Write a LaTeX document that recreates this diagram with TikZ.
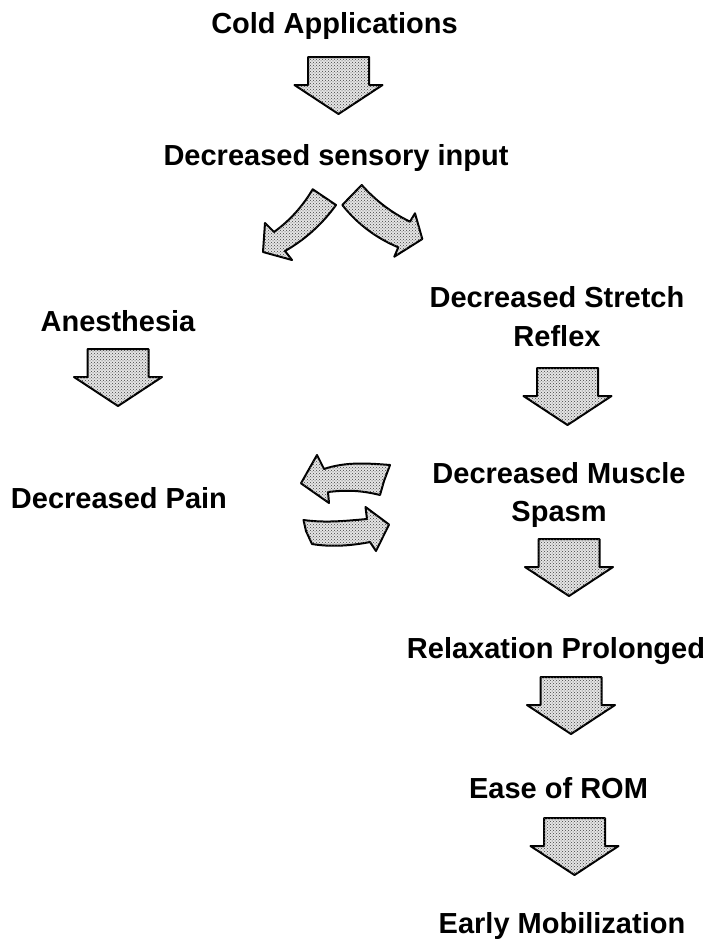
\documentclass[tikz,border=0pt]{standalone}
\usepackage{fontspec}
\setmainfont{Liberation Sans}
\usetikzlibrary{positioning,patterns}

\tikzset{
  fat/.style={draw=black, line width=2pt, fill=black!10, line join=round,
    postaction={pattern=crosshatch dots, pattern color=black!75}},
  fatdown/.pic={
    \draw[fat] (-30.5,0) -- (30.5,0) -- (30.5,28) -- (44,28) -- (0,57)
      -- (-44,28) -- (-30.5,28) -- cycle;
  },
  lbl/.style={anchor=base, inner sep=0pt, align=center,
    font=\fontsize{29}{38.5}\selectfont\bfseries}
}

\begin{document}
\begin{tikzpicture}[x=1pt, y=-1pt]
  \useasboundingbox (0,0) rectangle (712,940);
  \node[lbl] (cold) at (334.5,33) {Cold Applications};
  \node[lbl] (sensory) at (336,165) {Decreased sensory input};
  \node[lbl] (anesthesia) at (118,331.5) {Anesthesia};
  \node[lbl] (stretch) at (557,346) {Decreased Stretch\\Reflex};
  \node[lbl] (pain) at (119,508.5) {Decreased Pain};
  \node[lbl] (spasm) at (559,521.7) {Decreased Muscle\\Spasm};
  \node[lbl] (relax) at (556,658.3) {Relaxation Prolonged};
  \node[lbl] (rom) at (558.5,798.3) {Ease of ROM};
  \node[lbl] (early) at (562,933.3) {Early Mobilization};
  % straight block arrows
  \pic at (338.5,57) {fatdown};
  \pic at (118,349) {fatdown};
  \pic at (567.5,368) {fatdown};
  \pic at (569,539) {fatdown};
  \pic at (571,677) {fatdown};
  \pic at (574.5,818) {fatdown};
  % curved block arrows
  \draw[fat] (312.7,189.3) .. controls (302.5,206.5) and (289.6,220.8) .. (274,232)
    -- (265,223) -- (263,252) -- (292,260) -- (285,251)
    .. controls (305.3,239.4) and (322.3,224) .. (336,205) -- cycle;
  \draw[fat] (361.7,185) .. controls (375.4,200.4) and (391.5,212.7) .. (410,221.7)
    -- (415,213.3) -- (422.3,239) -- (394.3,256.7) -- (398.3,247.3)
    .. controls (376,238) and (357.4,223.9) .. (342.3,205) -- cycle;
  \draw[fat] (301,483.3) -- (317,455) -- (324,469)
    .. controls (345,462) and (365,463) .. (390,465)
    -- (384,481) -- (380,495)
    .. controls (360,490) and (345,490) .. (328,492) -- (329,503) -- cycle;
  \draw[fat] (303.5,520) .. controls (325,523) and (345,521) .. (367,519)
    -- (365.5,507) -- (389,524.5) -- (376,551) -- (370,542)
    .. controls (350,546) and (330,547) .. (312,544)
    -- (306,531) -- cycle;
\end{tikzpicture}
\end{document}
